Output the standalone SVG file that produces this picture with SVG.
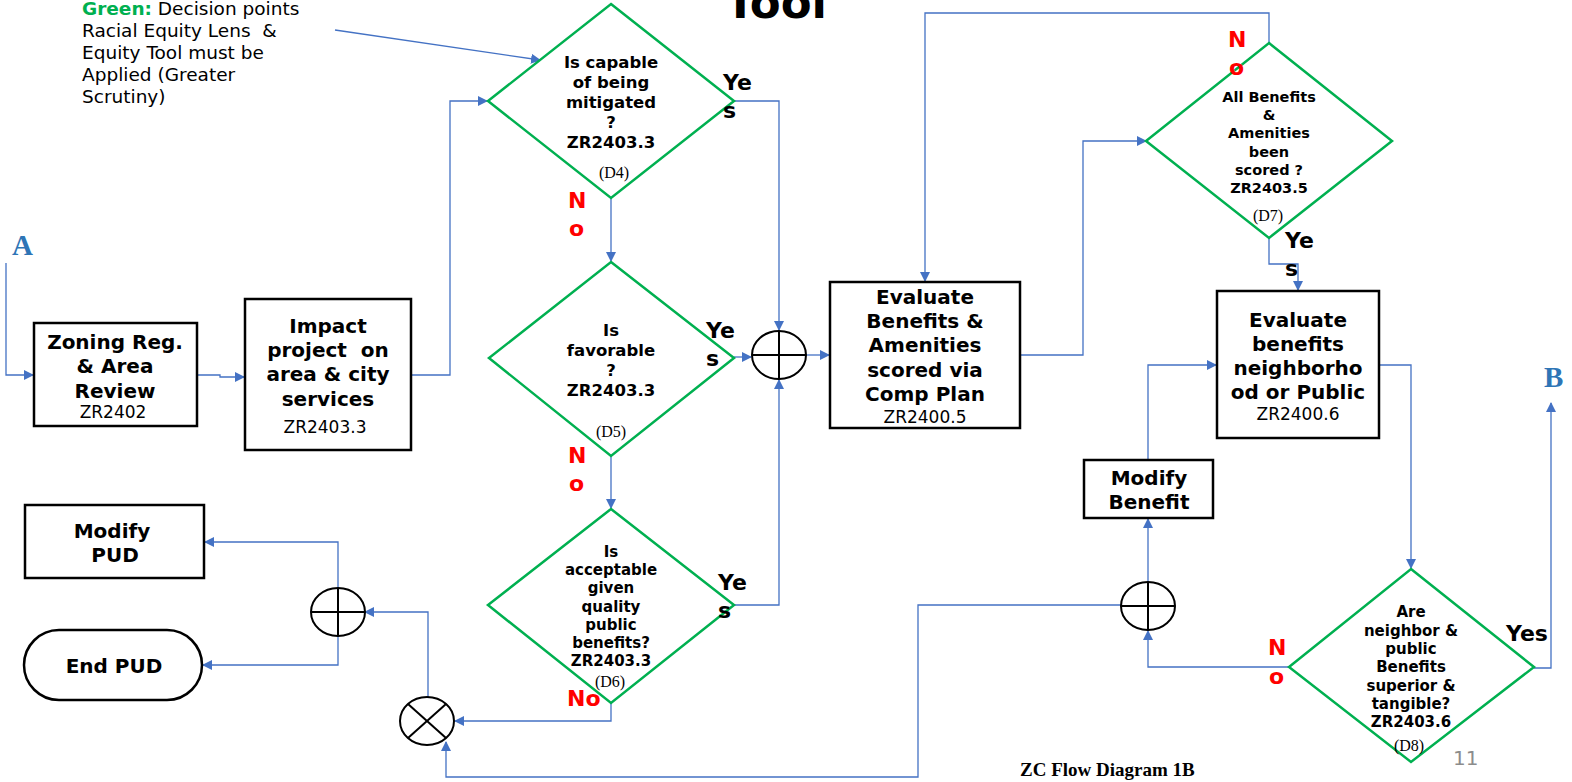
<svg xmlns="http://www.w3.org/2000/svg" width="1572" height="782" viewBox="0 0 1572 782">
<defs>
<marker id="ah" viewBox="0 0 10 10" refX="9" refY="5" markerWidth="10" markerHeight="10" markerUnits="userSpaceOnUse" orient="auto">
<path d="M0,0 L10,5 L0,10 z" fill="#4472c4"/>
</marker>
<style>
.c{fill:none;stroke:#4472c4;stroke-width:1.3;marker-end:url(#ah)}
.cn{fill:none;stroke:#4472c4;stroke-width:1.3}
.box{fill:#fff;stroke:#000;stroke-width:2.5}
.dia{fill:#fff;stroke:#00b050;stroke-width:2.5}
.sj{fill:#fff;stroke:#000;stroke-width:2}
.sjl{stroke:#000;stroke-width:2}
.bt{font-family:"DejaVu Sans",sans-serif;font-weight:bold;font-size:20px;text-anchor:middle;fill:#000}
.nt{font-family:"DejaVu Sans",sans-serif;font-size:17px;text-anchor:middle;fill:#000}
.dt{font-family:"DejaVu Sans",sans-serif;font-weight:bold;text-anchor:middle;fill:#000}
.dl{font-family:"Liberation Serif",serif;font-size:16px;text-anchor:middle;fill:#000}
.yes{font-family:"DejaVu Sans",sans-serif;font-weight:bold;font-size:22px;fill:#000}
.no{font-family:"DejaVu Sans",sans-serif;font-weight:bold;font-size:22px;fill:#ff0000}
.lg{font-family:"DejaVu Sans",sans-serif;font-size:18.5px;fill:#000}
.ab{font-family:"Liberation Serif",serif;font-weight:bold;font-size:29px;fill:#2e75b6}
</style>
</defs>
<rect width="1572" height="782" fill="#fff"/>

<text x="776" y="18" font-family="DejaVu Sans,sans-serif" font-weight="bold" font-size="45" text-anchor="middle">Tool</text>

<g id="legend">
<text class="lg" x="82" y="15"><tspan font-weight="bold" fill="#00b050">Green:</tspan> Decision points</text>
<text class="lg" x="82" y="37" xml:space="preserve">Racial Equity Lens  &amp;</text>
<text class="lg" x="82" y="59">Equity Tool must be</text>
<text class="lg" x="82" y="81">Applied (Greater</text>
<text class="lg" x="82" y="103">Scrutiny)</text>
</g>

<g id="connectors">
<path class="c" d="M335,30 L540,60"/>
<path class="c" d="M6,263 L6,375 L33,375"/>
<path class="c" d="M197,375 L220,375 L220,377 L244,377"/>
<path class="c" d="M411,375 L450,375 L450,101 L487,101"/>
<path class="c" d="M611,198 L611,261"/>
<path class="c" d="M611,456 L611,508"/>
<path class="c" d="M734,101 L779,101 L779,330"/>
<path class="c" d="M734,357 L751,357"/>
<path class="c" d="M734,605 L779,605 L779,380"/>
<path class="c" d="M806,355 L829,355"/>
<path class="c" d="M1020,355 L1083,355 L1083,141 L1146,141"/>
<path class="c" d="M1269,43 L1269,13 L925,13 L925,281"/>
<path class="c" d="M1269,238 L1269,264 L1298,264 L1298,290"/>
<path class="c" d="M1379,365 L1411,365 L1411,568"/>
<path class="c" d="M1534,668 L1551,668 L1551,403"/>
<path class="c" d="M1289,667 L1148,667 L1148,631"/>
<path class="c" d="M1148,582 L1148,519"/>
<path class="c" d="M1148,460 L1148,365 L1216,365"/>
<path class="c" d="M1121,605 L918,605 L918,777 L446,777 L446,742"/>
<path class="c" d="M611,703 L611,721 L455,721"/>
<path class="c" d="M428,697 L428,612 L365,612"/>
<path class="c" d="M338,588 L338,542 L205,542"/>
<path class="c" d="M338,636 L338,665 L203,665"/>
</g>

<g id="A"><text class="ab" x="12" y="255">A</text></g>
<g id="B"><text class="ab" x="1544" y="387">B</text></g>

<g id="zoning">
<rect class="box" x="34" y="323" width="163" height="103"/>
<text class="bt" x="115" y="349">Zoning Reg.</text>
<text class="bt" x="115" y="373">&amp; Area</text>
<text class="bt" x="115" y="398">Review</text>
<text class="nt" x="113" y="418">ZR2402</text>
</g>

<g id="impact">
<rect class="box" x="245" y="299" width="166" height="151"/>
<text class="bt" x="328" y="333">Impact</text>
<text class="bt" x="328" y="357" xml:space="preserve">project  on</text>
<text class="bt" x="328" y="381">area &amp; city</text>
<text class="bt" x="328" y="406">services</text>
<text class="nt" x="325" y="433" font-size="16">ZR2403.3</text>
</g>

<g id="d4">
<polygon class="dia" points="611,4 734,101 611,198 488,101"/>
<text class="dt" font-size="16.5" x="611" y="68">Is capable</text>
<text class="dt" font-size="16.5" x="611" y="88">of being</text>
<text class="dt" font-size="16.5" x="611" y="108">mitigated</text>
<text class="dt" font-size="16.5" x="611" y="128">?</text>
<text class="dt" font-size="16.5" x="611" y="148">ZR2403.3</text>
<text class="dl" x="614" y="178">(D4)</text>
<text class="yes" x="723" y="90">Ye</text>
<text class="yes" x="723" y="118">s</text>
<text class="no" x="568" y="208">N</text>
<text class="no" x="569" y="236">o</text>
</g>

<g id="d5">
<polygon class="dia" points="611,262 734,358 611,456 489,358"/>
<text class="dt" font-size="16.5" x="611" y="336">Is</text>
<text class="dt" font-size="16.5" x="611" y="356">favorable</text>
<text class="dt" font-size="16.5" x="611" y="376">?</text>
<text class="dt" font-size="16.5" x="611" y="396">ZR2403.3</text>
<text class="dl" x="611" y="437">(D5)</text>
<text class="yes" x="706" y="338">Ye</text>
<text class="yes" x="706" y="366">s</text>
<text class="no" x="568" y="463">N</text>
<text class="no" x="569" y="491">o</text>
</g>

<g id="d6">
<polygon class="dia" points="611,509 734,605 611,703 488,605"/>
<text class="dt" font-size="15" x="611" y="557">Is</text>
<text class="dt" font-size="15" x="611" y="575">acceptable</text>
<text class="dt" font-size="15" x="611" y="593">given</text>
<text class="dt" font-size="15" x="611" y="612">quality</text>
<text class="dt" font-size="15" x="611" y="630">public</text>
<text class="dt" font-size="15" x="611" y="648">benefits?</text>
<text class="dt" font-size="15" x="611" y="666">ZR2403.3</text>
<text class="dl" x="610" y="687">(D6)</text>
<text class="yes" x="718" y="590">Ye</text>
<text class="yes" x="718" y="618">s</text>
<text class="no" x="567" y="706">No</text>
</g>

<g id="sum1">
<ellipse class="sj" cx="779" cy="355" rx="27" ry="24"/>
<line class="sjl" x1="752" y1="355" x2="806" y2="355"/>
<line class="sjl" x1="779" y1="331" x2="779" y2="379"/>
</g>

<g id="evaluate1">
<rect class="box" x="830" y="282" width="190" height="146"/>
<text class="bt" x="925" y="304">Evaluate</text>
<text class="bt" x="925" y="328">Benefits &amp;</text>
<text class="bt" x="925" y="352">Amenities</text>
<text class="bt" x="925" y="377">scored via</text>
<text class="bt" x="925" y="401">Comp Plan</text>
<text class="nt" x="925" y="423">ZR2400.5</text>
</g>

<g id="d7">
<polygon class="dia" points="1269,43 1392,141 1269,238 1146,141"/>
<text class="dt" font-size="14.5" x="1269" y="102">All Benefits</text>
<text class="dt" font-size="14.5" x="1269" y="120">&amp;</text>
<text class="dt" font-size="14.5" x="1269" y="138">Amenities</text>
<text class="dt" font-size="14.5" x="1269" y="157">been</text>
<text class="dt" font-size="14.5" x="1269" y="175">scored ?</text>
<text class="dt" font-size="14.5" x="1269" y="193">ZR2403.5</text>
<text class="dl" x="1268" y="221">(D7)</text>
<text class="no" x="1228" y="47">N</text>
<text class="no" x="1229" y="75">o</text>
<text class="yes" x="1285" y="248">Ye</text>
<text class="yes" x="1285" y="276">s</text>
</g>

<g id="evaluate2">
<rect class="box" x="1217" y="291" width="162" height="147"/>
<text class="bt" x="1298" y="327">Evaluate</text>
<text class="bt" x="1298" y="351">benefits</text>
<text class="bt" x="1298" y="375">neighborho</text>
<text class="bt" x="1298" y="399">od or Public</text>
<text class="nt" x="1298" y="420">ZR2400.6</text>
</g>

<g id="modifybenefit">
<rect class="box" x="1084" y="460" width="129" height="58"/>
<text class="bt" x="1149" y="485">Modify</text>
<text class="bt" x="1149" y="509">Benefit</text>
</g>

<g id="sum2">
<ellipse class="sj" cx="1148" cy="606" rx="27" ry="24"/>
<line class="sjl" x1="1121" y1="606" x2="1175" y2="606"/>
<line class="sjl" x1="1148" y1="582" x2="1148" y2="630"/>
</g>

<g id="d8">
<polygon class="dia" points="1411,569 1534,667 1411,762 1289,667"/>
<text class="dt" font-size="15" x="1411" y="617">Are</text>
<text class="dt" font-size="15" x="1411" y="636">neighbor &amp;</text>
<text class="dt" font-size="15" x="1411" y="654">public</text>
<text class="dt" font-size="15" x="1411" y="672">Benefits</text>
<text class="dt" font-size="15" x="1411" y="691">superior &amp;</text>
<text class="dt" font-size="15" x="1411" y="709">tangible?</text>
<text class="dt" font-size="15" x="1411" y="727">ZR2403.6</text>
<text class="dl" x="1409" y="751">(D8)</text>
<text class="yes" x="1506" y="641">Yes</text>
<text class="no" x="1268" y="655">N</text>
<text class="no" x="1269" y="684">o</text>
</g>

<g id="xjunction">
<ellipse class="sj" cx="427" cy="721" rx="27" ry="24"/>
<line class="sjl" x1="408" y1="704" x2="446" y2="738"/>
<line class="sjl" x1="446" y1="704" x2="408" y2="738"/>
</g>

<g id="sum3">
<ellipse class="sj" cx="338" cy="612" rx="27" ry="24"/>
<line class="sjl" x1="311" y1="612" x2="365" y2="612"/>
<line class="sjl" x1="338" y1="588" x2="338" y2="636"/>
</g>

<g id="modifypud">
<rect class="box" x="25" y="505" width="179" height="73"/>
<text class="bt" x="112" y="538">Modify</text>
<text class="bt" x="115" y="562">PUD</text>
</g>

<g id="endpud">
<rect class="box" x="24" y="630" width="178" height="70" rx="35" ry="35"/>
<text class="bt" x="114" y="673">End PUD</text>
</g>

<text x="1020" y="776" font-family="Liberation Serif,serif" font-weight="bold" font-size="19">ZC Flow Diagram 1B</text>
<text x="1453" y="765" font-family="DejaVu Sans,sans-serif" font-size="20" fill="#8c8c8c">11</text>
</svg>
